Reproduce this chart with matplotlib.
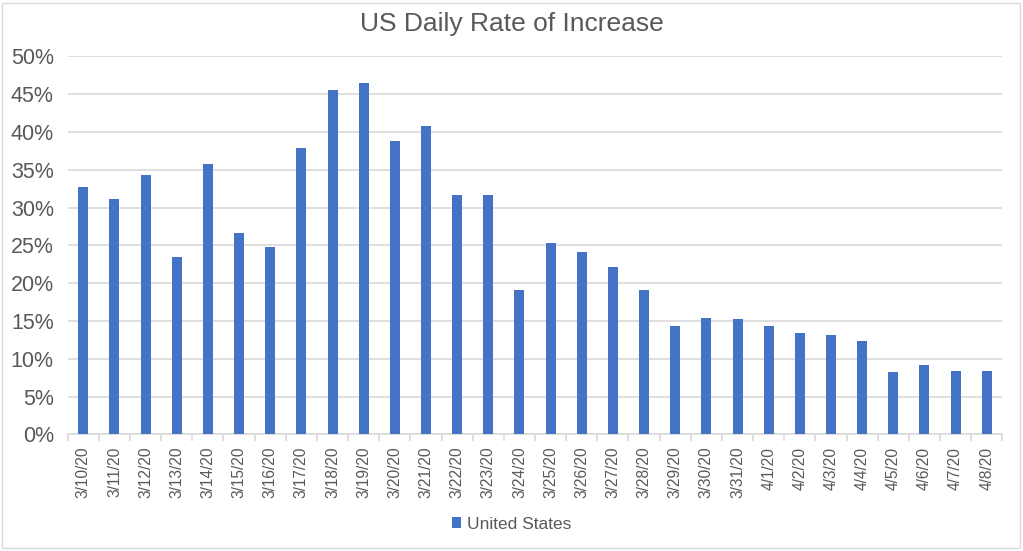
import numpy as np
import matplotlib
matplotlib.use("Agg")
import matplotlib.pyplot as plt
from matplotlib.patches import Rectangle
from matplotlib.ticker import MultipleLocator, FuncFormatter

plt.rcParams['font.family'] = ['Liberation Sans', 'DejaVu Sans']

dates = ["3/10/20", "3/11/20", "3/12/20", "3/13/20", "3/14/20", "3/15/20", "3/16/20",
         "3/17/20", "3/18/20", "3/19/20", "3/20/20", "3/21/20", "3/22/20", "3/23/20",
         "3/24/20", "3/25/20", "3/26/20", "3/27/20", "3/28/20", "3/29/20", "3/30/20",
         "3/31/20", "4/1/20", "4/2/20", "4/3/20", "4/4/20", "4/5/20", "4/6/20",
         "4/7/20", "4/8/20"]
us_rate = [32.7, 31.1, 34.3, 23.4, 35.8, 26.7, 24.8, 37.9, 45.5, 46.5,
           38.8, 40.8, 31.7, 31.7, 19.1, 25.3, 24.1, 22.1, 19.1, 14.3,
           15.4, 15.3, 14.3, 13.4, 13.2, 12.4, 8.2, 9.2, 8.4, 8.4]
series_name = "United States"

BLUE = "#4472c4"
TEXT = "#595959"
GRID = "#d9d9d9"

fig = plt.figure(figsize=(10.23, 5.51), dpi=100)
# outer chart border
fig.patches.append(Rectangle((2 / 1023, 3 / 551), 1018 / 1023, 545 / 551,
                             transform=fig.transFigure, fill=False,
                             edgecolor="#d9d9d9", linewidth=1))

ax = fig.add_axes([0.0662, 0.2118, 0.9136, 0.6857])
x = np.arange(len(dates))
ax.bar(x, us_rate, width=0.32, color=BLUE, label=series_name, zorder=3)

ax.set_xlim(-0.5, len(dates) - 0.5)
ax.set_ylim(0, 50)
ax.yaxis.set_major_locator(MultipleLocator(5))
ax.yaxis.set_major_formatter(FuncFormatter(lambda v, p: f"{v:.0f}%"))
ax.grid(axis="y", color=GRID, linewidth=1.2, zorder=0)

for s in ["top", "right", "left"]:
    ax.spines[s].set_visible(False)
ax.spines["bottom"].set_color(GRID)
ax.spines["bottom"].set_linewidth(1.2)

ax.set_xticks(x)
ax.set_xticklabels(dates, rotation=90, fontsize=11.2, color=TEXT)
ax.tick_params(axis="x", length=0, pad=9)
ax.set_xticks(np.arange(len(dates) + 1) - 0.5, minor=True)
ax.tick_params(axis="x", which="minor", length=5, color=GRID, width=1.2)
ax.tick_params(axis="y", length=0, labelsize=15.5, labelcolor=TEXT, pad=10)

fig.text(0.5, 0.957, "US Daily Rate of Increase", ha="center", va="center",
         fontsize=19, color=TEXT)

fig.legend(loc="center", bbox_to_anchor=(0.5, 0.049), frameon=False,
           fontsize=12.5, labelcolor=TEXT, handlelength=0.55, handleheight=0.55,
           handletextpad=0.3)

fig.savefig("out.png", dpi=100)
